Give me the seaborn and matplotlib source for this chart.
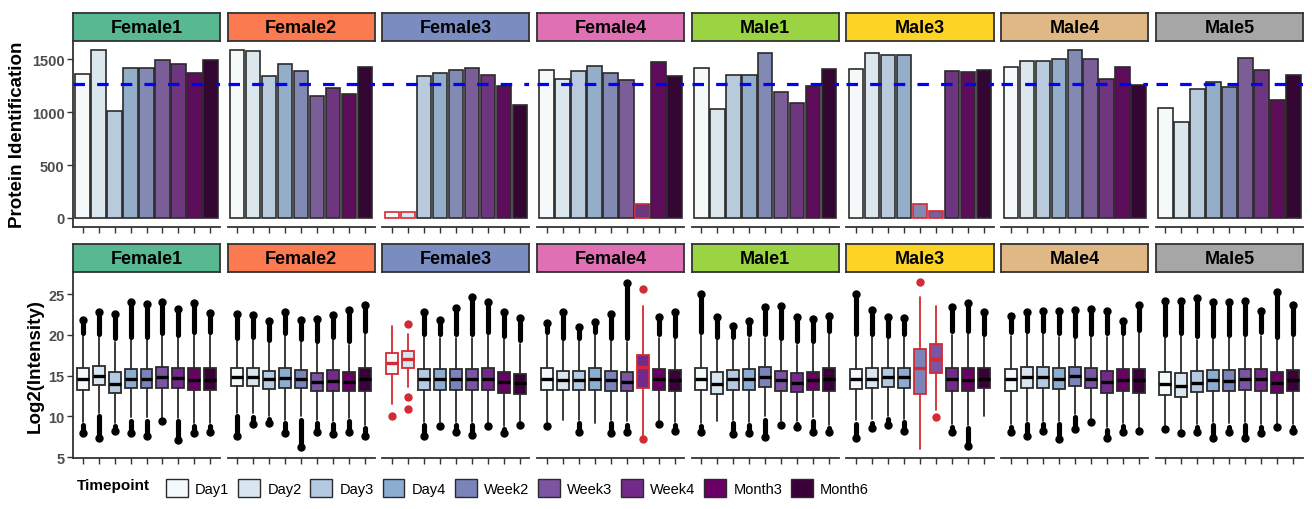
import matplotlib
matplotlib.use("Agg")
import matplotlib.pyplot as plt
from matplotlib.patches import Patch
import seaborn as sns
import pandas as pd

# Facets and timepoints
subjects = ["Female1", "Female2", "Female3", "Female4", "Male1", "Male3", "Male4", "Male5"]
strip_colors = ["#58b891", "#fb7a50", "#7a8cc0", "#e070b4", "#9ad443", "#fdd325", "#dfb886", "#a6a6a6"]
timepoints = ["Day1", "Day2", "Day3", "Day4", "Week2", "Week3", "Week4", "Month3", "Month6"]
tp_colors = ["#f4f9fb", "#d9e6f0", "#b3cae2", "#8badd2", "#7a83ba", "#7b54a2", "#742a8a", "#6a0066", "#3b0039"]

# Protein identifications per subject (one value per timepoint)
ids_female1 = [1360, 1585, 1009, 1414, 1414, 1493, 1452, 1369, 1490]
ids_female2 = [1588, 1575, 1344, 1452, 1391, 1151, 1227, 1167, 1426]
ids_female3 = [55, 55, 1344, 1372, 1401, 1420, 1350, 1246, 1066]
ids_female4 = [1401, 1310, 1388, 1439, 1369, 1300, 133, 1471, 1344]
ids_male1 = [1417, 1031, 1350, 1350, 1556, 1186, 1082, 1246, 1404]
ids_male3 = [1407, 1559, 1543, 1543, 136, 66, 1391, 1379, 1395]
ids_male4 = [1429, 1480, 1483, 1499, 1591, 1499, 1310, 1426, 1253]
ids_male5 = [1037, 904, 1218, 1281, 1234, 1509, 1398, 1116, 1347]
reference_line = 1270

# Log2 intensity box statistics (rows = subjects, cols = timepoints)
box_q3 = [
    [15.92, 16.24, 15.43, 15.80, 15.80, 16.04, 15.96, 15.92, 15.92],
    [15.96, 16.00, 15.63, 16.00, 15.72, 15.39, 15.67, 15.43, 15.96],
    [17.76, 18.00, 15.84, 15.80, 15.80, 15.80, 15.92, 15.51, 15.26],
    [15.92, 15.63, 15.63, 15.92, 15.59, 15.51, 17.56, 15.80, 15.72],
    [15.92, 15.43, 15.67, 15.80, 16.04, 15.59, 15.31, 15.51, 15.96],
    [15.88, 15.96, 15.96, 15.96, 18.25, 18.90, 15.92, 15.92, 15.96],
    [15.88, 16.08, 16.08, 15.92, 16.04, 15.96, 15.63, 15.84, 15.84],
    [15.47, 15.39, 15.55, 15.67, 15.67, 15.84, 15.88, 15.47, 15.72],
]
box_median = [
    [14.57, 15.02, 14.00, 14.57, 14.57, 14.81, 14.73, 14.49, 14.49],
    [14.85, 14.90, 14.57, 14.73, 14.57, 14.24, 14.37, 14.24, 14.57],
    [16.61, 17.10, 14.57, 14.57, 14.57, 14.57, 14.65, 14.20, 14.08],
    [14.65, 14.49, 14.49, 14.65, 14.41, 14.24, 16.12, 14.57, 14.49],
    [14.65, 14.00, 14.57, 14.57, 14.81, 14.41, 14.16, 14.49, 14.57],
    [14.61, 14.65, 14.86, 14.86, 15.96, 17.10, 14.57, 14.49, 14.65],
    [14.57, 14.86, 14.86, 14.65, 14.98, 14.65, 14.28, 14.49, 14.41],
    [13.92, 13.75, 14.16, 14.41, 14.33, 14.57, 14.57, 14.16, 14.41],
]
box_q1 = [
    [13.30, 13.91, 12.93, 13.43, 13.43, 13.51, 13.51, 13.22, 13.22],
    [13.75, 13.75, 13.39, 13.43, 13.43, 13.06, 13.18, 13.18, 13.18],
    [15.22, 16.00, 13.22, 13.22, 13.22, 13.22, 13.22, 12.85, 12.81],
    [13.22, 13.22, 13.22, 13.22, 13.18, 13.06, 13.43, 13.22, 13.18],
    [13.22, 12.81, 13.22, 13.22, 13.63, 13.14, 12.97, 13.26, 13.18],
    [13.34, 13.43, 13.59, 13.47, 12.81, 15.31, 13.18, 13.14, 13.47],
    [13.18, 13.43, 13.43, 13.34, 13.75, 13.43, 12.85, 13.18, 12.93],
    [12.69, 12.44, 12.97, 13.14, 13.06, 13.22, 13.18, 12.85, 13.06],
]
# highest / lowest observed value per box
obs_max = [
    [21.85, 22.86, 22.58, 24.00, 23.80, 24.10, 23.20, 23.90, 22.70],
    [22.58, 22.46, 21.65, 22.78, 21.85, 22.00, 22.40, 23.08, 23.69],
    [21.11, 21.36, 22.87, 21.85, 23.28, 24.63, 24.00, 22.87, 22.05],
    [21.44, 22.87, 21.03, 21.56, 22.58, 26.35, 25.60, 22.26, 22.87],
    [25.03, 22.17, 21.11, 21.65, 23.40, 23.60, 22.17, 21.97, 22.34],
    [25.03, 23.08, 22.17, 22.05, 26.55, 23.60, 23.48, 23.89, 22.87],
    [22.38, 22.78, 22.99, 22.99, 23.08, 23.20, 22.99, 21.77, 23.69],
    [24.21, 24.17, 24.50, 24.09, 24.09, 24.17, 22.99, 25.24, 23.69],
]
obs_min = [
    [8.02, 7.33, 8.27, 7.94, 7.65, 9.45, 7.12, 7.94, 8.15],
    [7.65, 9.05, 9.17, 7.94, 6.31, 8.15, 7.86, 8.15, 7.65],
    [10.10, 10.93, 7.65, 8.88, 8.15, 7.74, 8.88, 7.94, 8.96],
    [8.88, 9.58, 8.15, 9.17, 7.94, 8.15, 7.20, 9.09, 8.23],
    [8.15, 9.50, 7.82, 8.02, 7.45, 8.96, 8.76, 8.06, 8.06],
    [7.33, 8.55, 8.96, 8.23, 5.98, 9.90, 8.06, 6.43, 10.10],
    [8.06, 7.65, 8.27, 7.20, 8.47, 9.37, 7.33, 8.15, 8.27],
    [8.43, 7.94, 8.15, 7.33, 8.15, 7.41, 8.02, 8.76, 8.27],
]

# Flagged (low identification) samples, drawn in red
flagged = [("Female3", "Day1"), ("Female3", "Day2"), ("Female4", "Week4"),
           ("Male3", "Week2"), ("Male3", "Week3")]
flag_whislo = [11.5, 13.66, 7.5, 5.98, 10.8]
flag_whishi = [21.1, 20.09, 23.56, 24.66, 23.6]
flag_fliers = [[10.1], [21.36, 12.36, 10.93], [25.6, 7.2], [26.55], [9.9]]

all_ids = [ids_female1, ids_female2, ids_female3, ids_female4,
           ids_male1, ids_male3, ids_male4, ids_male5]
df = pd.DataFrame({
    "Subject": [s for s in subjects for _ in timepoints],
    "Timepoint": timepoints * len(subjects),
    "Proteins": [v for row in all_ids for v in row],
})

sns.set_style("white")
plt.rcParams["font.family"] = ["Liberation Sans", "DejaVu Sans"]
plt.rcParams["text.color"] = "black"

RED = "#d42a33"
EDGE = "#2b2b2b"
AXC = "#333333"
W, H = 1312, 510
fig = plt.figure(figsize=(W / 100, H / 100), dpi=100)


def px_axes(x0, y0, w, h):
    return fig.add_axes([x0 / W, 1 - (y0 + h) / H, w / W, h / H])


def style_panel(ax, first):
    ax.set_xlim(-0.6, 8.6)
    ax.set_xticks(range(len(timepoints)))
    ax.set_xlabel("")
    ax.set_ylabel("")
    ax.tick_params(axis="x", length=4, width=1, color=AXC, labelbottom=False, direction="out", bottom=True)
    for side in ["top", "right"]:
        ax.spines[side].set_visible(False)
    ax.spines["bottom"].set_color(AXC)
    ax.spines["bottom"].set_linewidth(1.3)
    if first:
        ax.spines["left"].set_color(AXC)
        ax.spines["left"].set_linewidth(1.3)
        ax.tick_params(axis="y", length=4, width=1, color=AXC, labelsize=10.5,
                       labelcolor="#4d4d4d", direction="out", left=True, pad=2)
        for lab in ax.get_yticklabels():
            lab.set_fontweight("bold")
    else:
        ax.spines["left"].set_visible(False)
        ax.tick_params(axis="y", left=False, labelleft=False)


def strip(x0, y0, label, color):
    sax = px_axes(x0, y0, 147, 28)
    sax.set_facecolor(color)
    sax.set_xticks([])
    sax.set_yticks([])
    for s in sax.spines.values():
        s.set_visible(True)
        s.set_color(AXC)
        s.set_linewidth(1.3)
    sax.text(0.5, 0.47, label, ha="center", va="center", fontsize=13,
             fontweight="bold", color="black", transform=sax.transAxes)


for i, subj in enumerate(subjects):
    x0 = 73 + i * 154.7
    strip(x0, 14, subj, strip_colors[i])
    strip(x0, 245, subj, strip_colors[i])

    # --- protein identification bars ---
    ax = px_axes(x0, 43, 147, 185)
    sub = df[df["Subject"] == subj]
    sns.barplot(data=sub, x="Timepoint", y="Proteins", hue="Timepoint",
                order=timepoints, hue_order=timepoints, palette=tp_colors,
                width=0.9, edgecolor=EDGE, linewidth=1.2, errorbar=None,
                legend=False, ax=ax)
    for p, tp in zip(ax.patches, timepoints):
        if (subj, tp) in flagged:
            p.set_edgecolor(RED)
    ax.axhline(reference_line, color="#0000ff", lw=2.3, ls=(0, (3.6, 3.8)), zorder=5)
    ax.set_ylim(-85, 1662)
    ax.set_yticks([0, 500, 1000, 1500])
    style_panel(ax, i == 0)

    # --- log2 intensity boxplots ---
    bx = px_axes(x0, 274, 147, 185)
    stats = []
    for j, tp in enumerate(timepoints):
        q1, med, q3 = box_q1[i][j], box_median[i][j], box_q3[i][j]
        iqr = q3 - q1
        if (subj, tp) in flagged:
            k = flagged.index((subj, tp))
            lo, hi, fl = flag_whislo[k], flag_whishi[k], flag_fliers[k]
        else:
            hi = min(q3 + 1.5 * iqr, obs_max[i][j])
            lo = max(q1 - 1.5 * iqr, obs_min[i][j])
            fl = []
        stats.append(dict(med=med, q1=q1, q3=q3, whislo=lo, whishi=hi, fliers=fl))
    art = bx.bxp(stats, positions=range(len(timepoints)), widths=0.75,
                 patch_artist=True, showcaps=False,
                 boxprops=dict(linewidth=1.3, edgecolor=EDGE),
                 whiskerprops=dict(linewidth=1.3, color=EDGE),
                 medianprops=dict(linewidth=2.4, color="black"),
                 flierprops=dict(marker="o", markersize=5, markerfacecolor=RED,
                                 markeredgecolor=RED))
    for j, tp in enumerate(timepoints):
        art["boxes"][j].set_facecolor(tp_colors[j])
        if (subj, tp) in flagged:
            art["boxes"][j].set_edgecolor(RED)
            art["medians"][j].set_color(RED)
            art["whiskers"][2 * j].set_color(RED)
            art["whiskers"][2 * j + 1].set_color(RED)
        else:
            # dense outlier columns beyond the whiskers
            s = stats[j]
            if obs_max[i][j] > s["whishi"] + 0.05:
                start = min(s["whishi"] + 0.4, obs_max[i][j])
                lc = bx.vlines(j, start, obs_max[i][j], colors="black", linewidth=3.7, zorder=3)
                lc.set_capstyle("round")
                bx.plot(j, obs_max[i][j], "o", color="black", ms=5, zorder=3)
            if obs_min[i][j] < s["whislo"] - 0.05:
                end = max(s["whislo"] - 0.4, obs_min[i][j])
                lc = bx.vlines(j, obs_min[i][j], end, colors="black", linewidth=3.7, zorder=3)
                lc.set_capstyle("round")
                bx.plot(j, obs_min[i][j], "o", color="black", ms=5, zorder=3)
    bx.set_ylim(4.9, 27.6)
    bx.set_yticks([5, 10, 15, 20, 25])
    style_panel(bx, i == 0)

fig.text(18 / W, 1 - 135 / H, "Protein Identification", rotation=90, ha="center",
         va="center", fontsize=13.5, fontweight="bold", color="black")
fig.text(35 / W, 1 - 366 / H, "Log2(Intensity)", rotation=90, ha="center",
         va="center", fontsize=13.5, fontweight="bold", color="black")

# legend
fig.text(77 / W, 1 - 486 / H, "Timepoint", ha="left", va="center", fontsize=11,
         fontweight="bold", color="black")
handles = [Patch(facecolor=c, edgecolor=EDGE, linewidth=1.0, label=t)
           for c, t in zip(tp_colors, timepoints)]
fig.legend(handles=handles, loc="center left", bbox_to_anchor=(166 / W, 1 - 489 / H),
           ncol=len(timepoints), frameon=False, fontsize=10.5, handlelength=1.5,
           handleheight=1.5, handletextpad=0.5, columnspacing=0.6, borderpad=0,
           borderaxespad=0, labelcolor="black")

fig.savefig("out.png", dpi=100)
